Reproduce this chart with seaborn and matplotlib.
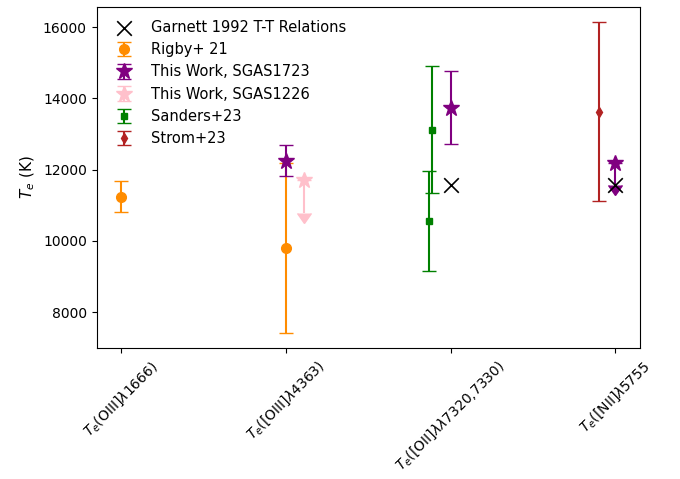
import matplotlib
matplotlib.use("Agg")
import matplotlib.pyplot as plt
import seaborn as sns
import numpy as np
import pandas as pd

# ---- data ----
categories = [r"$T_e$(OIII]$\lambda$1666)",
              r"$T_e$([OIII]$\lambda$4363)",
              r"$T_e$([OII]$\lambda\lambda$7320,7330)",
              r"$T_e$([NII]$\lambda$5755"]
cat_pos = [0, 1, 2, 3]

garnett_x = [2, 3]
garnett_te = [11560, 11560]

rigby_x = [0, 1]
rigby_te = [11240, 9810]
rigby_err = [440, 2390]

sgas1723_x = [1, 2, 3]
sgas1723_te = [12240, 13720, 12195]
sgas1723_err_lo = [415, 995, 625]
sgas1723_err_hi = [440, 1040, 0]
sgas1723_uplim = [False, False, True]

sgas1226_x = [1.11]
sgas1226_te = [11710]
sgas1226_err = [920]

sanders_x = [1.87, 1.89]
sanders_te = [10560, 13120]
sanders_err = [1405, 1780]

strom_x = [2.9]
strom_te = [13630]
strom_err = [2510]

plt.rcParams['font.size'] = 10.5
fig = plt.figure(figsize=(6.8, 4.79), dpi=100)
ax = fig.add_axes([0.142, 0.273, 0.799, 0.713])

gdf = pd.DataFrame({"x": garnett_x, "te": garnett_te})
sns.scatterplot(data=gdf, x="x", y="te", marker="x", s=110, color="black",
                linewidth=1.2, ax=ax, zorder=3, label="Garnett 1992 T-T Relations")

ax.errorbar(rigby_x, rigby_te, yerr=rigby_err, fmt="o", color="darkorange",
            markersize=7, capsize=5, label="Rigby+ 21")
ax.errorbar(sgas1723_x, sgas1723_te, yerr=[sgas1723_err_lo, sgas1723_err_hi],
            uplims=sgas1723_uplim, fmt="*", color="purple", markersize=12,
            capsize=5, label="This Work, SGAS1723")
ax.errorbar(sgas1226_x, sgas1226_te, yerr=sgas1226_err, uplims=True, fmt="*",
            color="pink", markersize=12, capsize=5, label="This Work, SGAS1226")
ax.errorbar(sanders_x, sanders_te, yerr=sanders_err, fmt="s", color="green",
            markersize=5, capsize=5, label="Sanders+23")
ax.errorbar(strom_x, strom_te, yerr=strom_err, fmt="d", color="firebrick",
            markersize=5, capsize=5, label="Strom+23")

ax.set_xticks(cat_pos)
ax.set_xticklabels(categories, rotation=45, fontsize=10)
ax.tick_params(axis="y", labelsize=10)
ax.set_xlabel("")
ax.set_ylabel(r"$T_e$ (K)", fontsize=11)
ax.legend(loc="upper left", frameon=False, fontsize=10.5)

fig.savefig("out.png", dpi=100)
